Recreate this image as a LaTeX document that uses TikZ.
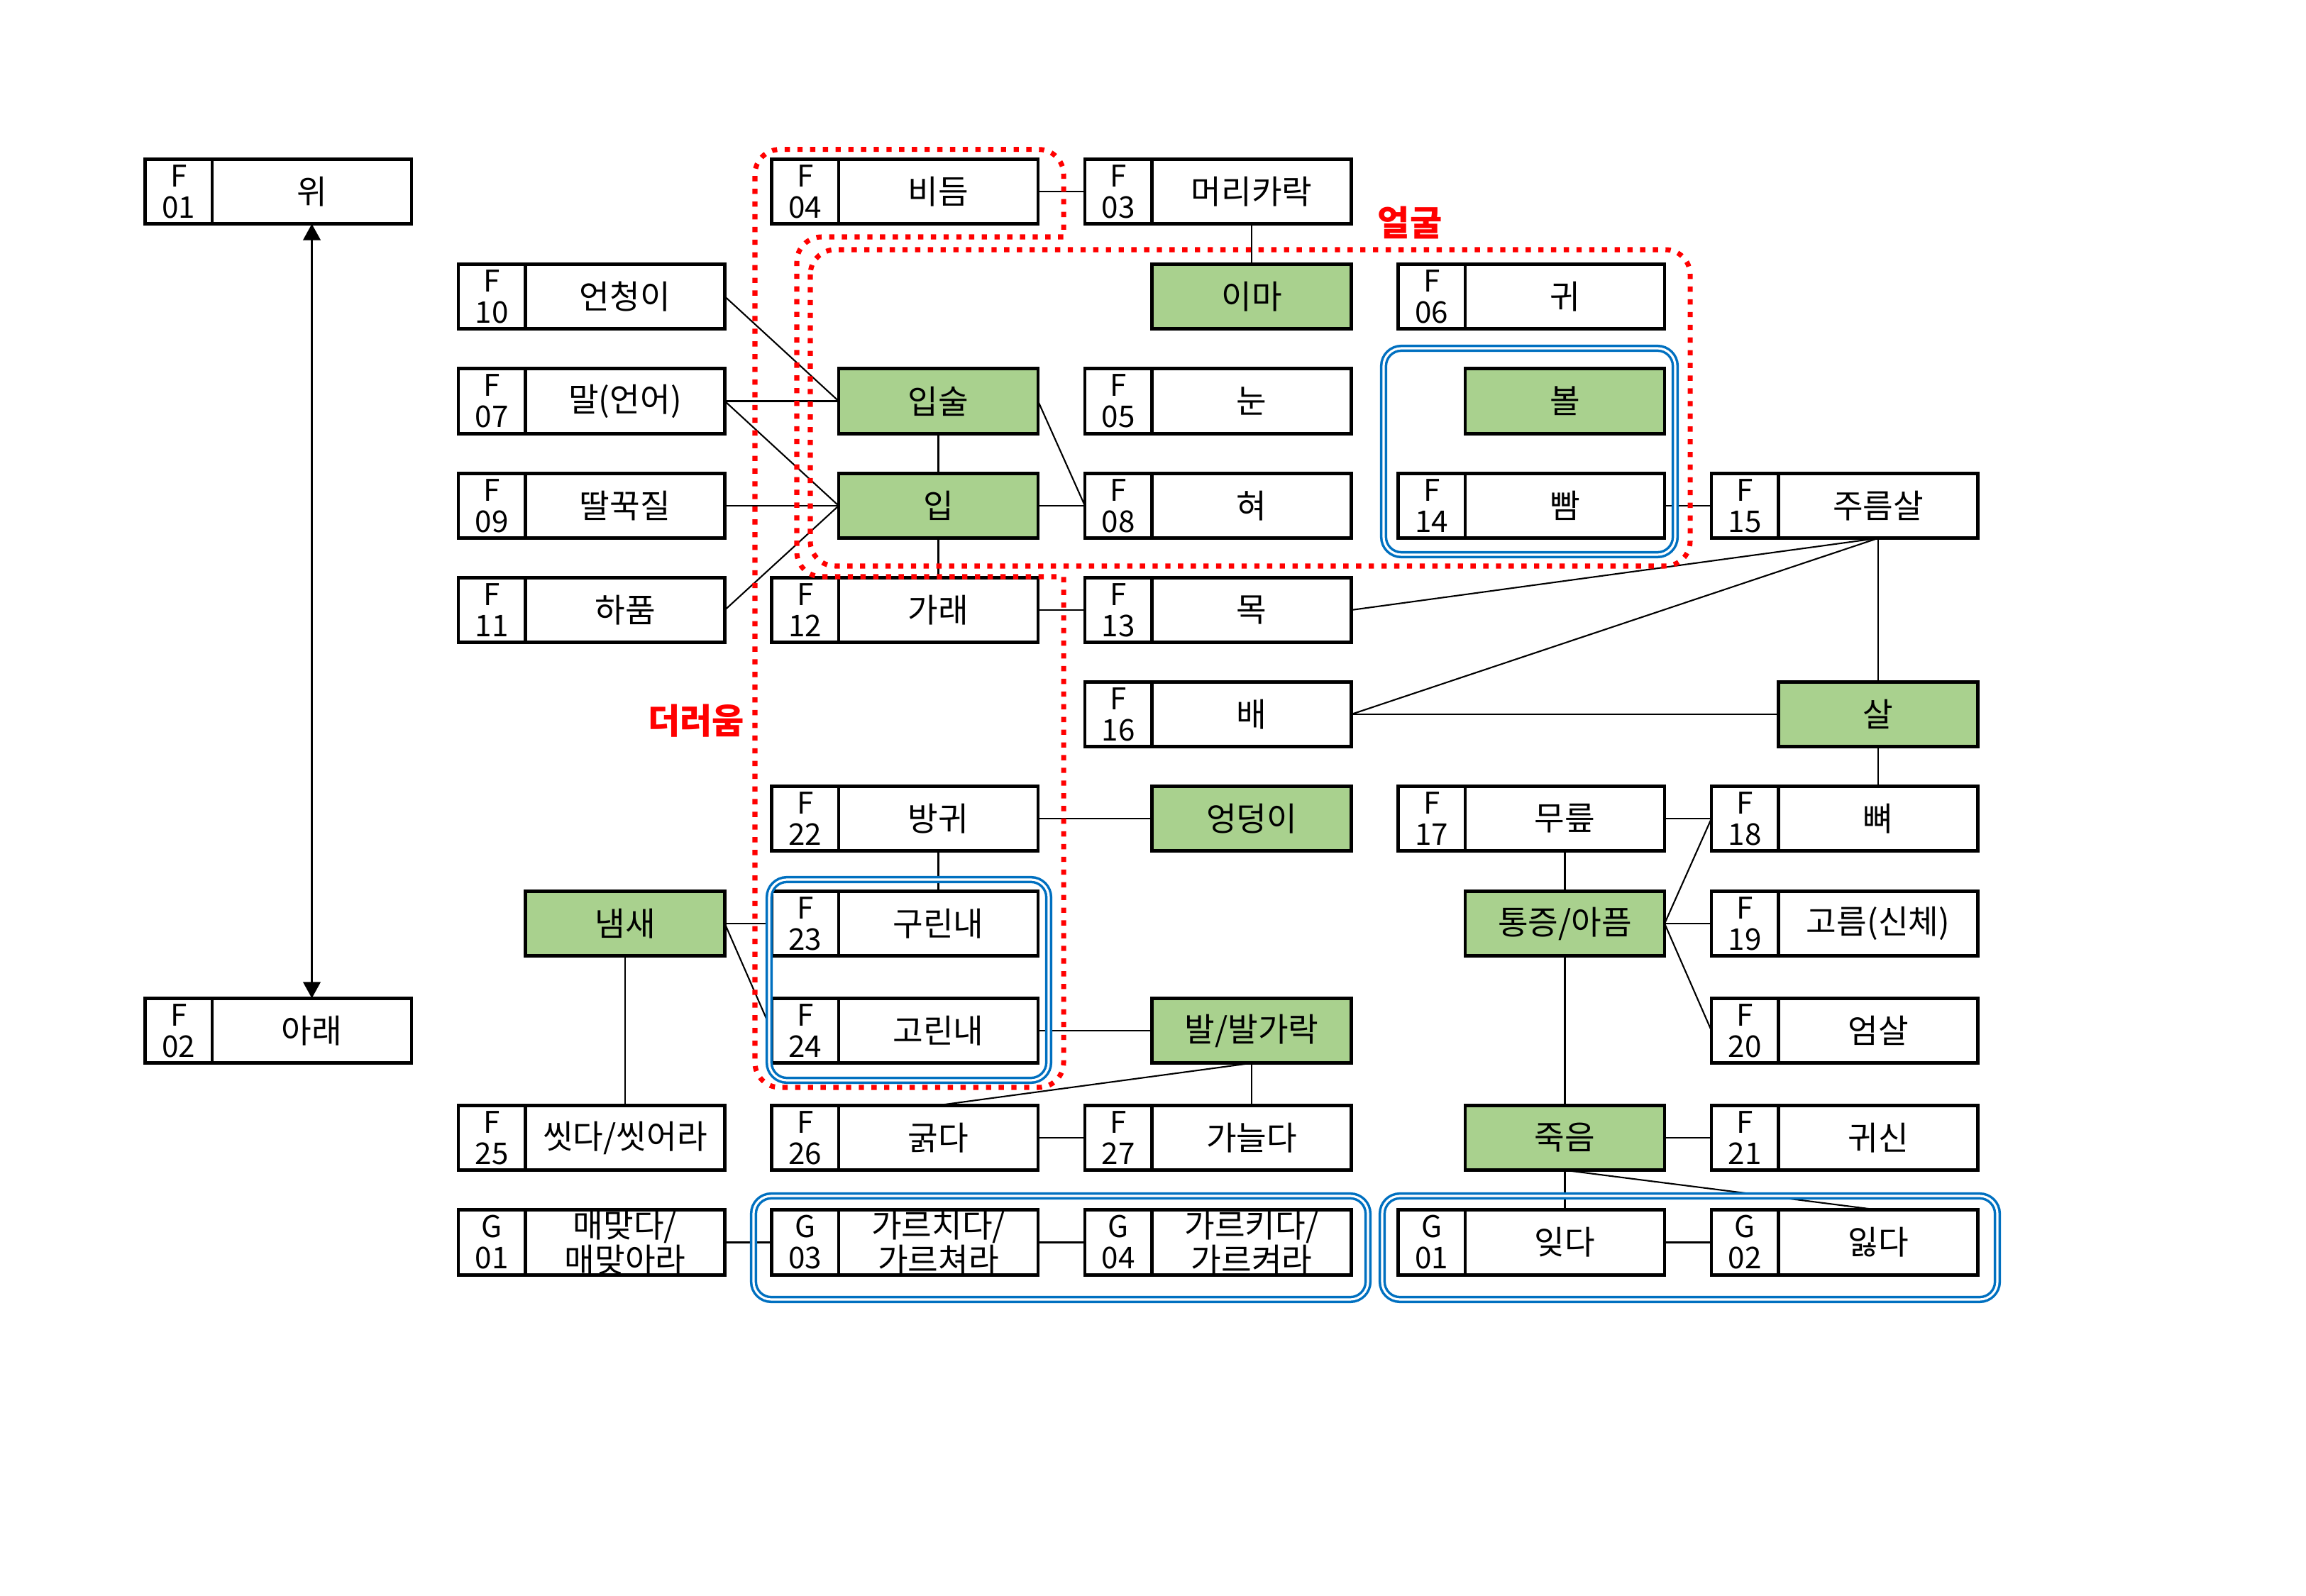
\documentclass[tikz,border=0pt]{standalone}
\usepackage{fontspec}
\setmainfont{Noto Sans CJK KR}
\usetikzlibrary{positioning,arrows.meta}
\definecolor{cellgreen}{RGB}{169,209,142}
\definecolor{groupblue}{RGB}{0,112,192}

\begin{document}
\begin{tikzpicture}[line width=0.6pt,>={Triangle[length=6.5pt,width=7pt]},
    word/.style={draw,line width=1.4pt,minimum width=2.81cm,minimum height=0.915cm,inner sep=0pt,outer sep=0pt,align=center,font=\fontsize{13.2}{13.8}\selectfont},
    key/.style={word,fill=cellgreen},
    code/.style={draw,line width=1.4pt,minimum width=0.945cm,minimum height=0.915cm,inner sep=0pt,outer sep=0pt,align=center,font=\fontsize{12}{12.5}\selectfont},
    group/.style={draw=groupblue,line width=1pt,double=white,double distance=0.9pt,rounded corners=0.25cm},
    area/.style={draw=red,line width=2pt,dash pattern=on 2.1pt off 3pt,rounded corners=0.35cm},
    areaname/.style={text=red,font=\fontsize{14}{16}\selectfont\bfseries}]

    \useasboundingbox (0,0) rectangle (32.5,-22.5);

    % row 1
    \node [word] (wi) at (4.395,-2.70) {위};
    \node [code,left=0pt of wi] (wi-c) {F\\01};
    \node [word] (bideum) at (13.225,-2.70) {비듬};
    \node [code,left=0pt of bideum] (bideum-c) {F\\04};
    \node [word] (meori) at (17.64,-2.70) {머리카락};
    \node [code,left=0pt of meori] (meori-c) {F\\03};

    % row 2
    \node [word] (eoncheong) at (8.81,-4.18) {언청이};
    \node [code,left=0pt of eoncheong] (eoncheong-c) {F\\10};
    \node [key] (ima) at (17.64,-4.18) {이마};
    \node [word] (gwi) at (22.055,-4.18) {귀};
    \node [code,left=0pt of gwi] (gwi-c) {F\\06};

    % row 3
    \node [word] (mal) at (8.81,-5.655) {말(언어)};
    \node [code,left=0pt of mal] (mal-c) {F\\07};
    \node [key] (ipsul) at (13.225,-5.655) {입술};
    \node [word] (nun) at (17.64,-5.655) {눈};
    \node [code,left=0pt of nun] (nun-c) {F\\05};
    \node [key] (bol) at (22.055,-5.655) {볼};

    % row 4
    \node [word] (ttalkkuk) at (8.81,-7.13) {딸꾹질};
    \node [code,left=0pt of ttalkkuk] (ttalkkuk-c) {F\\09};
    \node [key] (ip) at (13.225,-7.13) {입};
    \node [word] (hyeo) at (17.64,-7.13) {혀};
    \node [code,left=0pt of hyeo] (hyeo-c) {F\\08};
    \node [word] (ppam) at (22.055,-7.13) {빰};
    \node [code,left=0pt of ppam] (ppam-c) {F\\14};
    \node [word] (jureum) at (26.47,-7.13) {주름살};
    \node [code,left=0pt of jureum] (jureum-c) {F\\15};

    % row 5
    \node [word] (hapum) at (8.81,-8.60) {하품};
    \node [code,left=0pt of hapum] (hapum-c) {F\\11};
    \node [word] (garae) at (13.225,-8.60) {가래};
    \node [code,left=0pt of garae] (garae-c) {F\\12};
    \node [word] (mok) at (17.64,-8.60) {목};
    \node [code,left=0pt of mok] (mok-c) {F\\13};

    % row 6
    \node [word] (bae) at (17.64,-10.07) {배};
    \node [code,left=0pt of bae] (bae-c) {F\\16};
    \node [key] (sal) at (26.47,-10.07) {살};

    % row 7
    \node [word] (banggwi) at (13.225,-11.54) {방귀};
    \node [code,left=0pt of banggwi] (banggwi-c) {F\\22};
    \node [key] (eongdeong) at (17.64,-11.54) {엉덩이};
    \node [word] (mureup) at (22.055,-11.54) {무릎};
    \node [code,left=0pt of mureup] (mureup-c) {F\\17};
    \node [word] (ppyeo) at (26.47,-11.54) {뼈};
    \node [code,left=0pt of ppyeo] (ppyeo-c) {F\\18};

    % row 8
    \node [key] (naemsae) at (8.81,-13.02) {냄새};
    \node [word] (gurin) at (13.225,-13.02) {구린내};
    \node [code,left=0pt of gurin] (gurin-c) {F\\23};
    \node [key] (tongjeung) at (22.055,-13.02) {통증/아픔};
    \node [word] (goreum) at (26.47,-13.02) {고름(신체)};
    \node [code,left=0pt of goreum] (goreum-c) {F\\19};

    % row 9
    \node [word] (arae) at (4.395,-14.53) {아래};
    \node [code,left=0pt of arae] (arae-c) {F\\02};
    \node [word] (gorin) at (13.225,-14.53) {고린내};
    \node [code,left=0pt of gorin] (gorin-c) {F\\24};
    \node [key] (bal) at (17.64,-14.53) {발/발가락};
    \node [word] (eomsal) at (26.47,-14.53) {엄살};
    \node [code,left=0pt of eomsal] (eomsal-c) {F\\20};

    % row 10
    \node [word] (ssit) at (8.81,-16.04) {씻다/씻어라};
    \node [code,left=0pt of ssit] (ssit-c) {F\\25};
    \node [word] (gulk) at (13.225,-16.04) {굵다};
    \node [code,left=0pt of gulk] (gulk-c) {F\\26};
    \node [word] (ganeul) at (17.64,-16.04) {가늘다};
    \node [code,left=0pt of ganeul] (ganeul-c) {F\\27};
    \node [key] (jugeum) at (22.055,-16.04) {죽음};
    \node [word] (gwisin) at (26.47,-16.04) {귀신};
    \node [code,left=0pt of gwisin] (gwisin-c) {F\\21};

    % row 11
    \node [word] (maemat) at (8.81,-17.515) {매맞다/\\매맞아라};
    \node [code,left=0pt of maemat] (maemat-c) {G\\01};
    \node [word] (gareuchi) at (13.225,-17.515) {가르치다/\\가르쳐라};
    \node [code,left=0pt of gareuchi] (gareuchi-c) {G\\03};
    \node [word] (gareuki) at (17.64,-17.515) {가르키다/\\가르켜라};
    \node [code,left=0pt of gareuki] (gareuki-c) {G\\04};
    \node [word] (itda) at (22.055,-17.515) {잊다};
    \node [code,left=0pt of itda] (itda-c) {G\\01};
    \node [word] (ilta) at (26.47,-17.515) {잃다};
    \node [code,left=0pt of ilta] (ilta-c) {G\\02};

    % links
    \draw [<->] (wi.south) -- (arae.north);
    \draw (bideum.east) -- (meori-c.west);
    \draw (meori.south) -- (ima.north);
    \draw (eoncheong.east) -- (ipsul.west);
    \draw (mal.east) -- (ipsul.west);
    \draw (mal.east) -- (ip.west);
    \draw (ttalkkuk.east) -- (ip.west);
    \draw (hapum.east) -- (ip.west);
    \draw (ipsul.south) -- (ip.north);
    \draw (ip.south) -- (garae.north);
    \draw (ipsul.east) -- (hyeo-c.west);
    \draw (ip.east) -- (hyeo-c.west);
    \draw (garae.east) -- (mok-c.west);
    \draw (ppam.east) -- (jureum-c.west);
    \draw (jureum.south) -- (mok.east);
    \draw (jureum.south) -- (bae.east);
    \draw (jureum.south) -- (sal.north);
    \draw (bae.east) -- (sal.west);
    \draw (sal.south) -- (ppyeo.north);
    \draw (mureup.east) -- (ppyeo-c.west);
    \draw (mureup.south) -- (tongjeung.north);
    \draw (tongjeung.east) -- (ppyeo-c.west);
    \draw (tongjeung.east) -- (goreum-c.west);
    \draw (tongjeung.east) -- (eomsal-c.west);
    \draw (tongjeung.south) -- (jugeum.north);
    \draw (jugeum.east) -- (gwisin-c.west);
    \draw (jugeum.south) -- (itda.north);
    \draw (jugeum.south) -- (ilta.north);
    \draw (itda.east) -- (ilta-c.west);
    \draw (banggwi.east) -- (eongdeong.west);
    \draw (banggwi.south) -- (gurin.north);
    \draw (naemsae.east) -- (gurin-c.west);
    \draw (naemsae.east) -- (gorin-c.west);
    \draw (naemsae.south) -- (ssit.north);
    \draw (gorin.east) -- (bal.west);
    \draw (bal.south) -- (ganeul.north);
    \draw (bal.south) -- (gulk.north);
    \draw (gulk.east) -- (ganeul-c.west);
    \draw (maemat.east) -- (gareuchi-c.west);
    \draw (gareuchi.east) -- (gareuki-c.west);

    % groups
    \draw [group] (19.50,-4.91) rectangle (23.61,-7.82);
    \draw [group] (10.84,-12.40) rectangle (14.78,-15.23);
    \draw [group] (10.62,-16.86) rectangle (19.28,-18.32);
    \draw [group] (19.48,-16.86) rectangle (28.15,-18.32);

    % areas
    \draw [area] (10.64,-9) -- (10.64,-2.107) -- (14.99,-2.107) [sharp corners] -- (14.99,-3.34) [rounded corners=0.35cm] -- (11.23,-3.34) -- (11.23,-8.13) [sharp corners] -- (14.99,-8.13) [rounded corners=0.35cm] -- (14.99,-15.33) -- (10.64,-15.33) -- cycle;
    \draw [area] (11.42,-3.52) rectangle (23.82,-7.98);
    \node [areaname] (face) at (19.87,-3.14) {얼굴};
    \node [areaname] (dirt) at (9.81,-10.16) {더러움};

\end{tikzpicture}
\end{document}
